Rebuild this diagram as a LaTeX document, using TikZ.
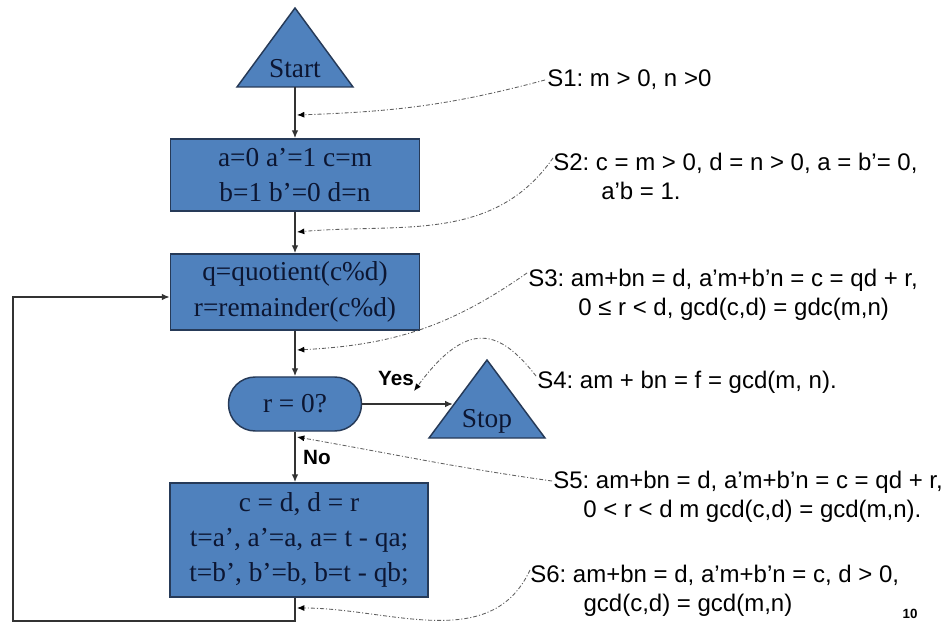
\documentclass[tikz,border=0pt]{standalone}
\usepackage{fontspec}
\setmainfont{Liberation Serif}
\setsansfont{Liberation Sans}
\usetikzlibrary{arrows.meta,calc}
\definecolor{boxfill}{RGB}{79,129,189}
\definecolor{boxline}{RGB}{38,58,88}
\definecolor{boxtext}{RGB}{12,22,50}
\definecolor{annot}{RGB}{95,95,95}
\frenchspacing
\begin{document}
\begin{tikzpicture}[x=0.75pt,y=-0.75pt,
  box/.style={draw=boxline, line width=1.1pt, fill=boxfill, text=boxtext,
    font=\fontsize{20.5}{26.5}\selectfont, align=center, inner sep=0pt},
  tri/.style={draw=boxline, line width=1.1pt, fill=boxfill},
  tritext/.style={text=boxtext, font=\fontsize{20.5}{26.5}\selectfont, inner sep=0pt},
  flow/.style={draw=black!80, line width=1.1pt, -{Latex[length=6pt,width=5pt]}},
  note/.style={draw=annot, line width=0.65pt,
    dash pattern=on 3pt off 1.5pt on 0.8pt off 1.5pt,
    -{Latex[length=5.5pt,width=4.5pt,color=black]}},
  stext/.style={font=\sffamily\fontsize{18}{21.75}\selectfont, align=left,
    anchor=base west, inner sep=0pt},
  lbl/.style={font=\sffamily\bfseries\fontsize{15.5}{18}\selectfont, inner sep=0pt}
]
\useasboundingbox (0,0) rectangle (942,623);

% start triangle
\path[tri] (237,87) -- (295,8) -- (353,87) -- cycle;
\node[tritext] (start) at (295,69) {Start};
\coordinate (startb) at (295,87);

% boxes
\node[box, minimum width=186.75pt, minimum height=54pt] (box1) at (295,175)
  {a=0 a’=1 c=m\\ b=1 b’=0 d=n};
\node[box, minimum width=186.75pt, minimum height=57pt] (box2) at (295,292)
  {q=quotient(c\%d)\\ r=remainder(c\%d)};
\node[box, minimum width=99.75pt, minimum height=40.5pt, rounded corners=20pt] (dec) at (295,404)
  {r = 0?};
\node[box, minimum width=193.5pt, minimum height=85.5pt] (box3) at (299,540)
  {c = d, d = r\\ t=a’, a’=a, a= t - qa;\\ t=b’, b’=b, b=t - qb;};

% stop triangle
\path[tri] (429,438) -- (487,360) -- (545,438) -- cycle;
\node[tritext, anchor=base] (stop) at (487,427) {Stop};
\coordinate (stopl) at (453,404);

% flow
\draw[flow] (startb) -- (startb |- box1.north);
\draw[flow] (box1.south) -- (box2.north);
\draw[flow] (box2.south) -- (dec.north);
\draw[flow] (dec.east) -- (stopl);
\draw[flow] (dec.south) -- (dec.south |- box3.north);
\coordinate (loopa) at (295,621);
\coordinate (loopb) at (13,621);
\draw[flow] (box3.south -| loopa) -- (loopa) -- (loopb) |- ($(box2.west)+(0,5)$);

\node[lbl] (yes) at (396,378) {Yes};
\node[lbl] (no) at (317,457) {No};

% annotations (anchor = baseline of the last line)
\node[stext] (s1) at (547,87) {S1: m > 0, n >0};
\node[stext] (s2) at (553,200) {S2: c = m > 0, d = n > 0, a = b’= 0,\\\hspace*{36pt}a’b = 1.};
\node[stext] (s3) at (528,316) {S3: am+bn = d, a’m+b’n = c = qd + r,\\\hspace*{37.5pt}0 ≤ r < d, gcd(c,d) = gdc(m,n)};
\node[stext] (s4) at (537,388) {S4: am + bn = f = gcd(m, n).};
\node[stext] (s5) at (553,517) {S5: am+bn = d, a’m+b’n = c = qd + r,\\\hspace*{22.5pt}0 < r < d m gcd(c,d) = gcd(m,n).};
\node[stext] (s6) at (530,611) {S6: am+bn = d, a’m+b’n = c, d > 0,\\\hspace*{40pt}gcd(c,d) = gcd(m,n)};
\node[font=\sffamily\bfseries\fontsize{10}{12}\selectfont, inner sep=0pt] (pg) at (910,614) {10};

\coordinate (p1) at (545,80);  \coordinate (a1) at (297,115);
\coordinate (p2) at (553,158); \coordinate (a2) at (297,232);
\coordinate (p3) at (527,273); \coordinate (a3) at (297,350);
\coordinate (p4) at (536,376); \coordinate (a4) at (414,391);
\coordinate (p5) at (552,481); \coordinate (a5) at (297,437);
\coordinate (p6) at (530,570); \coordinate (a6) at (297,608);

\draw[note] (p1) to[out=195,in=2] (a1);
\draw[note] (p2) to[out=235,in=5] (a2);
\draw[note] (p3) to[out=215,in=3] (a3);
\draw[note] (p4) .. controls (500,330) and (468,318) .. (a4);
\draw[note] (p5) to[out=172,in=-10] (a5);
\draw[note] (p6) to[out=245,in=0] (a6);
\end{tikzpicture}
\end{document}
